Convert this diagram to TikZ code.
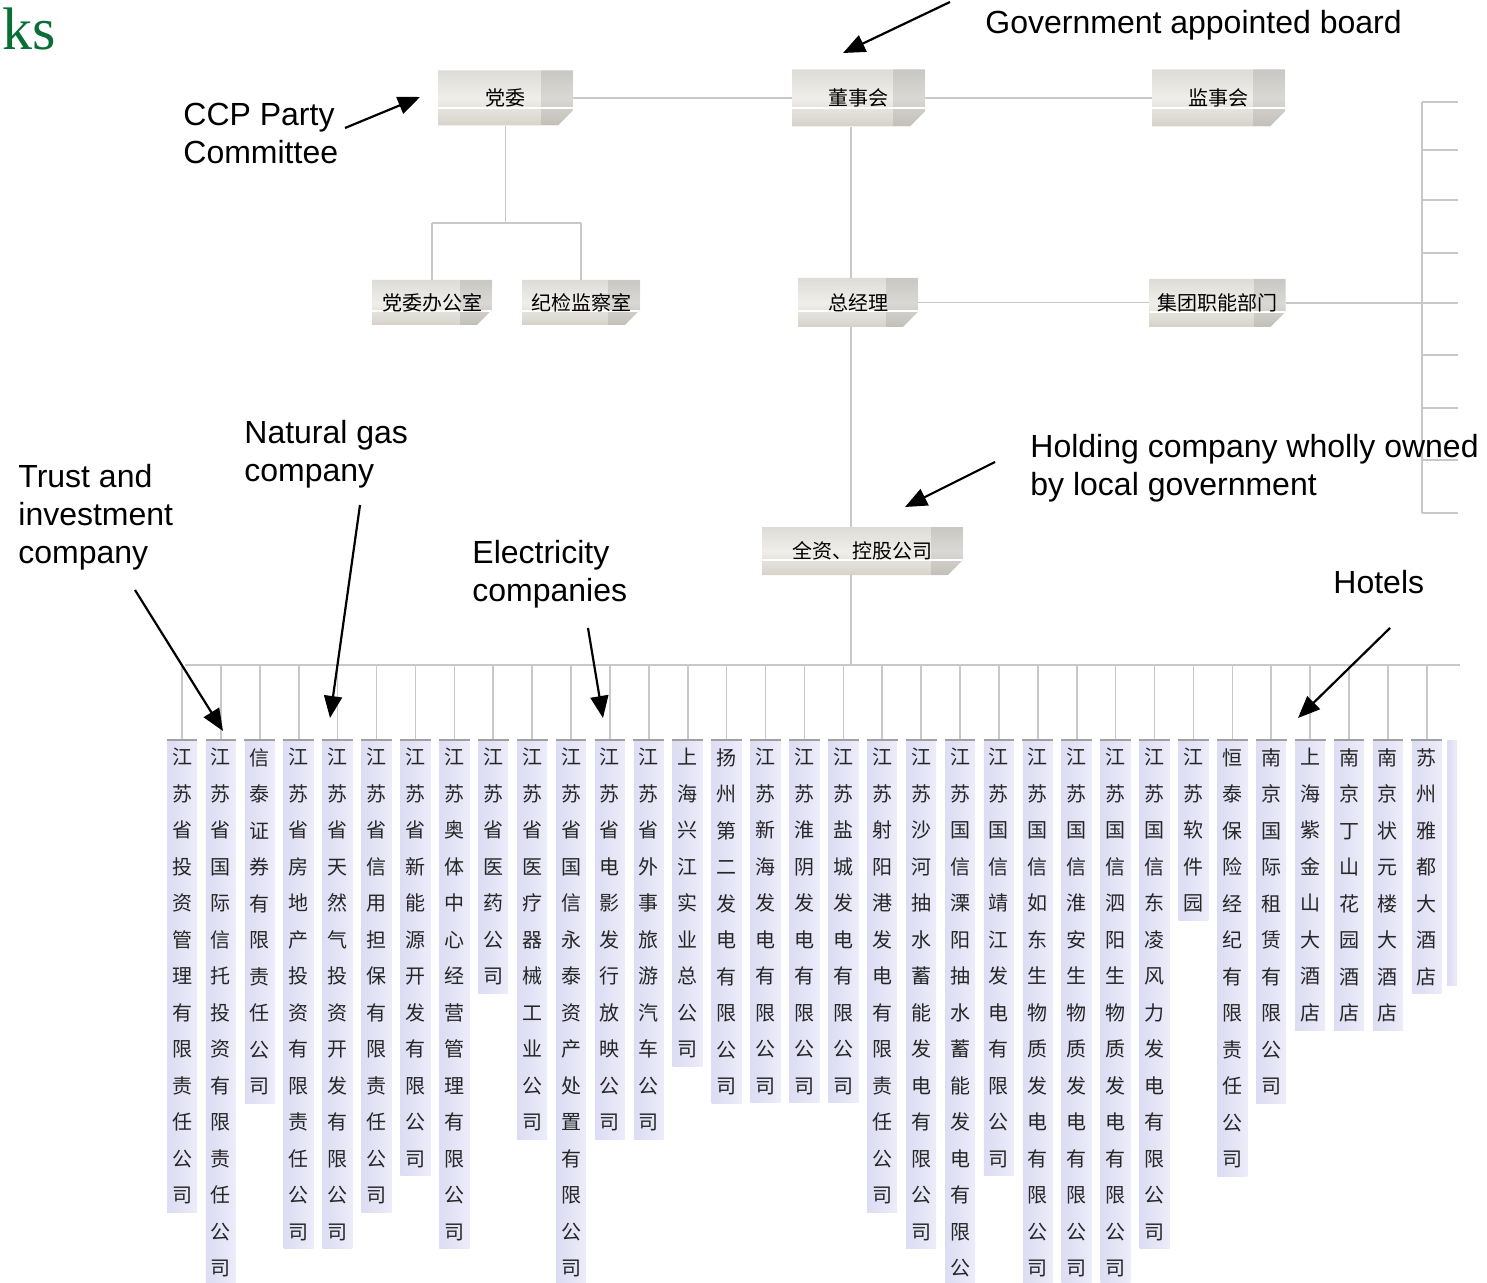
\documentclass[tikz,border=0pt]{standalone}
\usepackage{fontspec}
\setmainfont{Liberation Sans}
\newfontfamily\cjk{Noto Sans CJK SC}
\newfontfamily\titulo{Liberation Serif}
\usetikzlibrary{calc,positioning,shapes.misc,arrows.meta}

\definecolor{gris}{RGB}{200,200,200}
\definecolor{lila}{RGB}{220,220,243}
\definecolor{lilaclaro}{RGB}{236,236,250}
\definecolor{cajaarriba}{RGB}{222,220,215}
\definecolor{cajamedio}{RGB}{240,238,234}
\definecolor{cajaabajo}{RGB}{214,210,202}
\definecolor{verde}{RGB}{10,110,55}

\def\vpilaNo#1{}
\def\vpilaSi#1{#1}
\def\vpilaA#1#2\vpilaEnd{#1\ifx\relax#2\relax\expandafter\vpilaNo\else\expandafter\vpilaSi\fi{\\\vpilaA#2\vpilaEnd}}
\newcommand\vpila[1]{\expandafter\vpilaA#1\vpilaEnd}

\begin{document}
\begin{tikzpicture}[x=0.5pt,y=-0.5pt,
  caja/.style={chamfered rectangle,chamfered rectangle corners=south east,chamfered rectangle xsep=4pt,
    top color=cajaarriba,bottom color=cajaabajo,middle color=cajamedio,font=\cjk\fontsize{10}{12}\selectfont,
    inner sep=0pt,
    path picture={
      \fill[black,opacity=.09] ($(path picture bounding box.north east)+(-16pt,0)$) rectangle (path picture bounding box.south east);
      \draw[white,line width=1pt] ($(path picture bounding box.south west)!.32!(path picture bounding box.north west)$) -- ($(path picture bounding box.south east)!.32!(path picture bounding box.north east)$);
    }},
  columna/.style={anchor=north,font=\cjk\fontsize{10}{18.25}\selectfont,align=center,minimum width=15pt,
    inner xsep=0pt,inner ysep=4pt,left color=lila,right color=lilaclaro,text=black!85},
  linea/.style={gris,line width=0.8pt},
  nota/.style={anchor=north west,font=\fontsize{16}{19}\selectfont,align=left,inner sep=0pt},
  flecha/.style={-{Triangle[length=11pt,width=9pt]},line width=1.1pt}
  ]

  \useasboundingbox (0,0) rectangle (1487,1283);

  \node[anchor=base west,font=\titulo\fontsize{30}{30}\selectfont,text=verde,inner sep=0pt] (tit) at (2,50) {ks};

  \node[caja,minimum width=67.5pt,minimum height=27.5pt] (dw) at (505.5,98) {党委};
  \node[caja,minimum width=66.5pt,minimum height=28.5pt] (dsh) at (858.5,98) {董事会};
  \node[caja,minimum width=66.5pt,minimum height=28.5pt] (jsh) at (1218.5,98) {监事会};
  \node[caja,minimum width=60pt,minimum height=22.5pt] (dwb) at (432,302.5) {党委办公室};
  \node[caja,minimum width=59pt,minimum height=22.5pt] (jj) at (581,302.5) {纪检监察室};
  \node[caja,minimum width=60pt,minimum height=24.5pt] (zjl) at (858,302.5) {总经理};
  \node[caja,minimum width=65.5pt,minimum height=24pt] (jt) at (1217.5,303) {集团职能部门};
  \node[caja,minimum width=100.5pt,minimum height=24pt] (qz) at (862.5,551) {全资、控股公司};

  \coordinate (eje) at (851,0);
  \coordinate (llave) at (1422,102);
  \coordinate (busL) at (185,665);
  \coordinate (busR) at (1460,665);
  \coordinate (dwm) at ($(dw.south)+(0,97)$);

  \foreach \txt [count=\i] in {江苏省投资管理有限责任公司,江苏省国际信托投资有限责任公司,信泰证券有限责任公司,
    江苏省房地产投资有限责任公司,江苏省天然气投资开发有限公司,江苏省信用担保有限责任公司,江苏省新能源开发有限公司,
    江苏奥体中心经营管理有限公司,江苏省医药公司,江苏省医疗器械工业公司,江苏省国信永泰资产处置有限公司,
    江苏省电影发行放映公司,江苏省外事旅游汽车公司,上海兴江实业总公司,扬州第二发电有限公司,江苏新海发电有限公司,
    江苏淮阴发电有限公司,江苏盐城发电有限公司,江苏射阳港发电有限责任公司,江苏沙河抽水蓄能发电有限公司,
    江苏国信溧阳抽水蓄能发电有限公,江苏国信靖江发电有限公司,江苏国信如东生物质发电有限公司,
    江苏国信淮安生物质发电有限公司,江苏国信泗阳生物质发电有限公司,江苏国信东凌风力发电有限公司,江苏软件园,
    恒泰保险经纪有限责任公司,南京国际租赁有限公司,上海紫金山大酒店,南京丁山花园酒店,南京状元楼大酒店,苏州雅都大酒店}{
    \node[columna] (c\i) at ({182+38.9*(\i-1)},740) {\vpila{\txt}};
    \draw[linea] (c\i.north) -- (c\i.north |- busL);
    \draw[gris!80!black,line width=0.6pt] (c\i.north west) -- (c\i.north east);
  }
  \node[columna,minimum width=5pt,minimum height=122.5pt] (c34) at (1452,740) {};

  \draw[linea] (dw.east) -- (dw.east -| dsh.west);
  \draw[linea] (dsh.east) -- (dsh.east -| jsh.west);
  \draw[linea] (dw.south) -- (dwm);
  \draw[linea] (dwm -| dwb.north) -- (dwm -| jj.north);
  \draw[linea] (dwm -| dwb.north) -- (dwb.north);
  \draw[linea] (dwm -| jj.north) -- (jj.north);
  \draw[linea] (eje |- dsh.south) -- (eje |- zjl.north);
  \draw[linea] (eje |- zjl.south) -- (eje |- qz.north);
  \draw[linea] (eje |- qz.south) -- (eje |- busL);
  \draw[linea] (zjl.east) -- (zjl.east -| jt.west);
  \draw[linea] (jt.east) -- (jt.east -| llave);
  \draw[linea] (llave) -- ++(0,411);
  \foreach \y in {102,150,200,253,303,355,408,460,513}
    \draw[linea] (1422,\y) -- (1458,\y);
  \draw[linea] (busL) -- (busR);

  \node[nota] (gob) at (985,10) {Government appointed board};
  \node[nota] (ccp) at (183,103) {CCP Party\\Committee};
  \node[nota] (fid) at (18,464) {Trust and\\investment\\company};
  \node[nota] (gas) at (244,420) {Natural gas\\company};
  \node[nota] (ele) at (472,540) {Electricity\\companies};
  \node[nota] (hold) at (1030,434) {Holding company wholly owned\\by local government};
  \node[nota] (hot) at (1333,570) {Hotels};

  \coordinate (gobA) at (950,2);    \coordinate (gobB) at (843,53);
  \coordinate (ccpA) at (345,128);  \coordinate (ccpB) at (420,97);
  \coordinate (fidA) at (135,590);  \coordinate (fidB) at (223,731);
  \coordinate (gasA) at (360,505);  \coordinate (gasB) at (330,718);
  \coordinate (eleA) at (588,628);  \coordinate (eleB) at (603,718);
  \coordinate (holdA) at (995,462); \coordinate (holdB) at (905,507);
  \coordinate (hotA) at (1390,628); \coordinate (hotB) at (1298,718);

  \draw[flecha] (gobA) -- (gobB);
  \draw[flecha] (ccpA) -- (ccpB);
  \draw[flecha] (fidA) -- (fidB);
  \draw[flecha] (gasA) -- (gasB);
  \draw[flecha] (eleA) -- (eleB);
  \draw[flecha] (holdA) -- (holdB);
  \draw[flecha] (hotA) -- (hotB);

\end{tikzpicture}
\end{document}
